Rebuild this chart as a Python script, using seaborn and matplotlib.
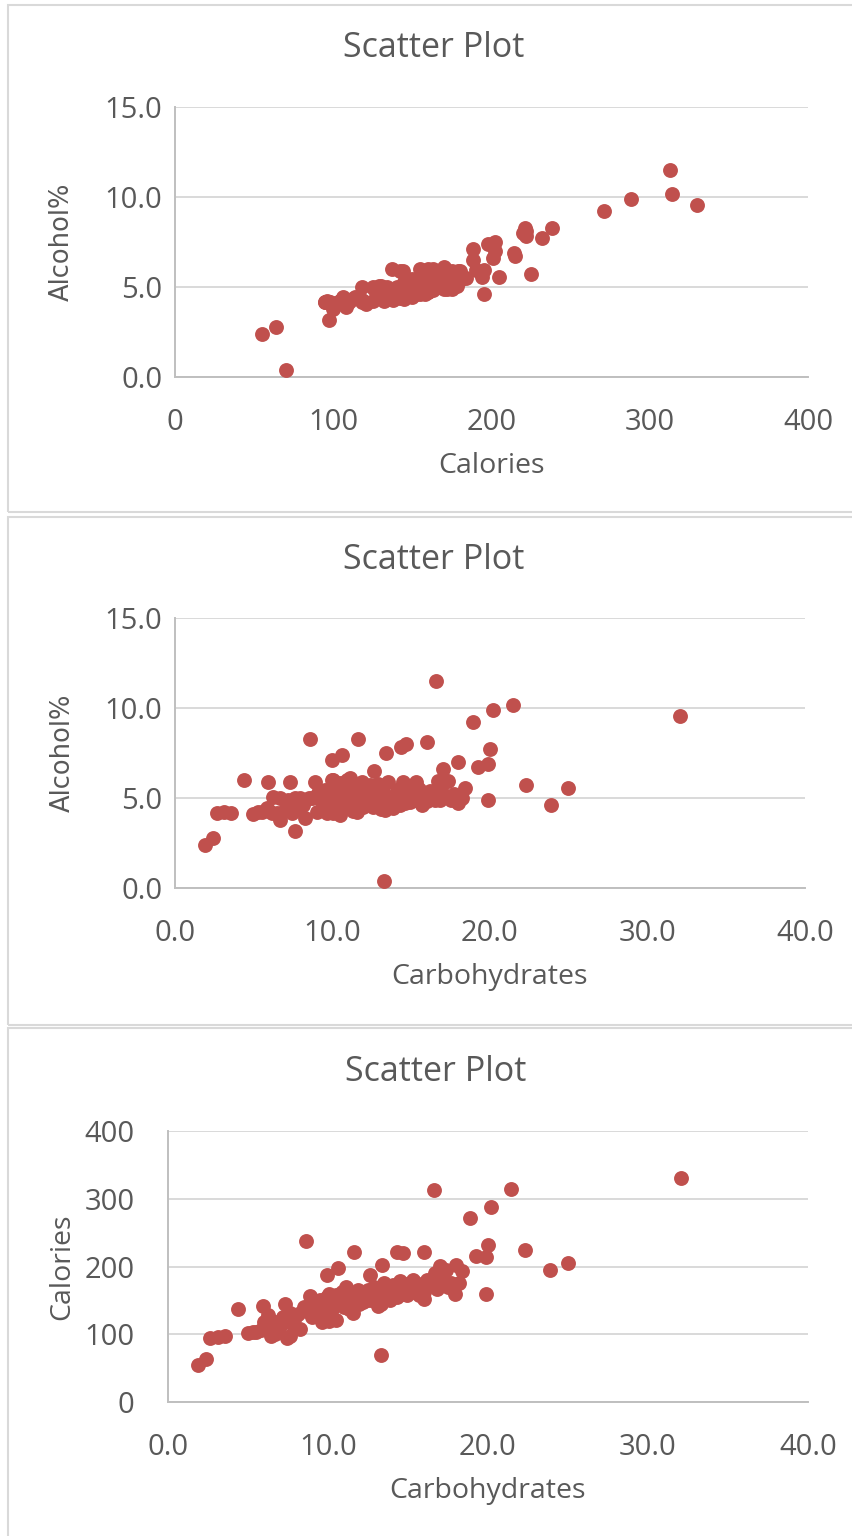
import matplotlib
matplotlib.use("Agg")
import matplotlib.pyplot as plt
import pandas as pd
import seaborn as sns
from matplotlib.patches import Rectangle

# beer data (one beer = one triplet)
carbs = [1.9, 2.4, 2.65, 3.1, 3.55, 4.4, 4.97, 5.5, 5.82, 5.93,
         6.14, 6.24, 6.46, 6.67, 6.67, 6.98, 7.3, 7.41, 7.62, 7.62,
         7.83, 7.94, 8.25, 8.6, 8.68, 8.9, 9.1, 9.63, 9.3, 9.52,
         9.84, 9.95, 9.95, 9.95, 10.05, 10.05, 10.27, 10.48, 10.48, 10.6,
         10.69, 11.1, 11.43, 11.54, 11.6, 11.85, 11.96, 12.38, 12.6, 12.65,
         13.0, 13.3, 13.33, 13.4, 13.55, 13.86, 14.08, 14.29, 14.33, 14.5,
         14.67, 14.92, 14.9, 15.56, 15.98, 16.0, 16.0, 16.4, 16.6, 16.7,
         16.8, 16.83, 17.0, 17.25, 17.35, 17.7, 17.95, 18.0, 18.4, 18.9,
         19.26, 19.87, 19.9, 19.97, 20.2, 21.45, 22.3, 23.9, 24.97, 32.06,
         10.2, 10.8, 11.0, 11.2, 11.7, 12.0, 12.2, 12.5, 12.8, 13.1,
         13.2, 13.6, 13.8, 14.0, 14.2, 14.6, 15.0, 15.2, 15.5, 15.8,
         16.2, 16.5, 12.4, 11.3, 9.7, 9.0, 8.5, 8.1, 7.2, 6.0,
         5.3, 13.5, 14.8, 16.9, 15.3, 12.9, 11.5, 10.9, 17.5, 18.2,
         15.7, 14.4]
alcohol = [2.4, 2.8, 4.15, 4.24, 4.18, 6.0, 4.11, 4.24, 4.43, 5.91,
           4.15, 5.07, 4.15, 3.78, 4.98, 4.33, 5.91, 4.15, 3.18, 4.98,
           4.43, 4.98, 3.87, 8.28, 4.98, 5.9, 5.26, 4.15, 4.89, 5.44,
           5.07, 6.0, 7.11, 5.07, 4.15, 6.0, 4.7, 4.05, 5.81, 7.39,
           4.89, 6.09, 4.7, 4.24, 8.28, 5.91, 4.52, 5.72, 4.52, 6.52,
           4.7, 0.4, 4.33, 7.52, 5.07, 4.43, 5.35, 4.61, 7.82, 5.91,
           8.0, 4.8, 5.06, 5.07, 4.89, 8.13, 4.83, 5.07, 11.5, 5.94,
           5.02, 4.89, 6.59, 5.07, 5.94, 5.24, 4.74, 7.02, 5.55, 9.2,
           6.74, 4.87, 6.89, 7.74, 9.87, 10.19, 5.73, 4.61, 5.54, 9.57,
           5.5, 5.2, 4.5, 5.6, 5.0, 5.3, 4.9, 5.5, 5.0, 4.4,
           5.4, 4.6, 5.0, 4.8, 5.5, 4.7, 5.3, 4.9, 5.5, 5.1,
           5.4, 4.9, 4.7, 4.3, 4.6, 4.2, 5.0, 4.6, 4.9, 4.3,
           4.2, 5.9, 5.6, 5.5, 5.9, 5.8, 5.3, 6.0, 4.9, 5.0,
           4.6, 5.2]
calories = [55, 64, 95, 96, 98, 137, 102, 104, 106, 142,
            110, 129, 97, 100, 118, 112, 144, 95, 97, 131,
            114, 125, 108, 238, 134, 157, 145, 118, 140, 150,
            147, 155, 188, 130, 120, 160, 138, 121, 158, 198,
            146, 170, 148, 132, 221, 165, 145, 163, 150, 188,
            152, 70, 145, 202, 160, 150, 172, 155, 222, 179,
            220, 158, 165, 170, 152, 222, 163, 177, 313, 190,
            167, 175, 201, 178, 195, 175, 160, 202, 194, 271,
            215, 160, 214, 232, 288, 314, 225, 195, 205, 330,
            155, 150, 140, 160, 152, 158, 148, 165, 155, 142,
            166, 152, 160, 156, 170, 160, 172, 162, 176, 170,
            180, 172, 150, 138, 135, 125, 140, 130, 126, 118,
            104, 175, 174, 184, 180, 170, 155, 163, 170, 175,
            158, 165]

df = pd.DataFrame({"Calories": calories, "Alcohol%": alcohol, "Carbohydrates": carbs})

RED = "#C0504D"
GRID = "#D9D9D9"
AXIS = "#BFBFBF"
TEXT = "#595959"
W, H = 853, 1536

sns.set_style("white")
plt.rcParams["font.family"] = ["Open Sans", "DejaVu Sans"]


def px_rect(l, r, t, b):
    return [l / W, 1 - b / H, (r - l) / W, (b - t) / H]


def draw_panel(fig, rect, x, y, xlim, xstep, ylim, ystep, xfmt, yfmt, ypad, ylab_x, ylab_font):
    ax = fig.add_axes(rect)
    sns.scatterplot(data=df, x=x, y=y, ax=ax, color=RED, s=115, linewidth=0, zorder=3)
    ax.set_xlim(*xlim)
    ax.set_ylim(*ylim)
    xt = list(range(xlim[0], xlim[1] + 1, xstep))
    yt = list(range(ylim[0], ylim[1] + 1, ystep))
    ax.set_xticks(xt)
    ax.set_yticks(yt)
    ax.set_xticklabels([xfmt.format(v) for v in xt])
    ax.set_yticklabels([yfmt.format(v) for v in yt])
    ax.tick_params(axis="x", length=0, pad=22, labelsize=21, labelcolor=TEXT)
    ax.tick_params(axis="y", length=0, pad=ypad, labelsize=21, labelcolor=TEXT)
    ax.grid(axis="y", color=GRID, linewidth=1.4, zorder=0)
    ax.grid(axis="x", visible=False)
    for s in ["top", "right"]:
        ax.spines[s].set_visible(False)
    for s in ["left", "bottom"]:
        ax.spines[s].set_color(AXIS)
        ax.spines[s].set_linewidth(1.4)
    ax.set_xlabel(x, fontsize=20.5, color=TEXT)
    ax.xaxis.set_label_coords(0.5, -0.33)
    ax.set_ylabel(y, fontsize=ylab_font[1], color=TEXT, family=ylab_font[0])
    ax.yaxis.set_label_coords(ylab_x, 0.5)
    ax.xaxis.label.set_va("center")
    ax.yaxis.label.set_va("center")
    return ax


fig = plt.figure(figsize=(W / 100, H / 100), dpi=100)
fig.patch.set_facecolor("white")

# chart frames
for top, bottom in [(5, 512), (517, 1025), (1028, 1545)]:
    fig.patches.append(Rectangle((8 / W, 1 - bottom / H), 1.0, (bottom - top) / H,
                                 transform=fig.transFigure, fill=False,
                                 edgecolor=GRID, linewidth=1.5))

draw_panel(fig, px_rect(175, 808, 107, 377), "Calories", "Alcohol%",
           (0, 400), 100, (0, 15), 5, "{:d}", "{:.1f}", 9, -0.1785, (["DejaVu Sans"], 18.5))
draw_panel(fig, px_rect(175, 805, 618, 888), "Carbohydrates", "Alcohol%",
           (0, 40), 10, (0, 15), 5, "{:.1f}", "{:.1f}", 9, -0.1785, (["DejaVu Sans"], 18.5))
draw_panel(fig, px_rect(168, 808, 1131, 1402), "Carbohydrates", "Calories",
           (0, 40), 10, (0, 400), 100, "{:.1f}", "{:d}", 24, -0.166, (["Open Sans", "DejaVu Sans"], 20.5))

for yc, xc in [(48, 434), (560, 434), (1072, 436)]:
    fig.text(xc / W, 1 - yc / H, "Scatter Plot", ha="center", va="center",
             fontsize=24.5, color=TEXT)

fig.savefig("out.png", dpi=100)
